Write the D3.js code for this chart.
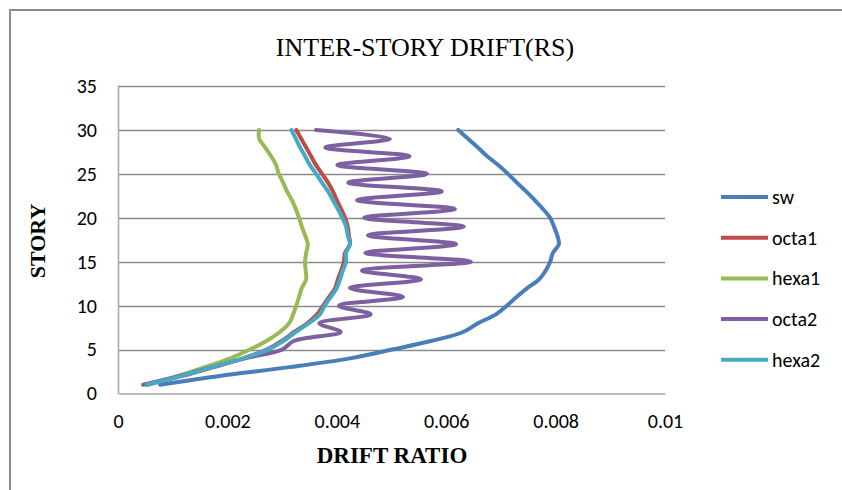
<!DOCTYPE html>
<html>
<head>
<meta charset="utf-8">
<script src="https://cdn.jsdelivr.net/npm/d3@7"></script>
<style>
  body { margin: 0; background: #fff; }
  svg { display: block; }
</style>
</head>
<body>
<svg id="chart" width="842" height="490"></svg>
<script>
// Story levels 1..30
const stories = d3.range(1, 31);

// Inter-story drift ratio per story, bottom to top
const sw    = [0.00077, 0.00186, 0.00314, 0.00424, 0.00501, 0.00574, 0.00631, 0.00658, 0.00691, 0.00711,
               0.00729, 0.00748, 0.00770, 0.00782, 0.00790, 0.00795, 0.00806, 0.00803, 0.00797, 0.00790,
               0.00777, 0.00762, 0.00746, 0.00729, 0.00713, 0.00695, 0.00675, 0.00658, 0.00640, 0.00622];
const octa1 = [0.00053, 0.00117, 0.00174, 0.00229, 0.00272, 0.00300, 0.00322, 0.00346, 0.00364, 0.00375,
               0.00386, 0.00397, 0.00402, 0.00408, 0.00413, 0.00415, 0.00424, 0.00422, 0.00420, 0.00415,
               0.00408, 0.00400, 0.00393, 0.00384, 0.00373, 0.00362, 0.00353, 0.00344, 0.00335, 0.00326];
const hexa1 = [0.00053, 0.00110, 0.00159, 0.00205, 0.00241, 0.00272, 0.00296, 0.00313, 0.00320, 0.00326,
               0.00331, 0.00336, 0.00344, 0.00343, 0.00342, 0.00344, 0.00347, 0.00342, 0.00336, 0.00331,
               0.00325, 0.00318, 0.00309, 0.00302, 0.00294, 0.00289, 0.00280, 0.00269, 0.00258, 0.00258];
const octa2 = [0.00046, 0.00113, 0.00172, 0.00232, 0.00300, 0.00322, 0.00407, 0.00368, 0.00462, 0.00404,
               0.00521, 0.00424, 0.00554, 0.00446, 0.00645, 0.00452, 0.00618, 0.00457, 0.00632, 0.00450,
               0.00616, 0.00437, 0.00592, 0.00421, 0.00565, 0.00401, 0.00533, 0.00379, 0.00497, 0.00362];
const hexa2 = [0.00053, 0.00117, 0.00172, 0.00229, 0.00274, 0.00303, 0.00325, 0.00349, 0.00369, 0.00378,
               0.00389, 0.00400, 0.00406, 0.00411, 0.00417, 0.00417, 0.00424, 0.00420, 0.00417, 0.00410,
               0.00402, 0.00393, 0.00384, 0.00373, 0.00362, 0.00351, 0.00342, 0.00333, 0.00325, 0.00317];

const seriesNames = ["sw", "octa1", "hexa1", "octa2", "hexa2"];
const seriesValues = [sw, octa1, hexa1, octa2, hexa2];
const seriesColors = ["#4a7ebb", "#be4b48", "#98b954", "#7d60a0", "#46aac5"];

const xTicks = [0, 0.002, 0.004, 0.006, 0.008, 0.01];
const xTickLabels = ["0", "0.002", "0.004", "0.006", "0.008", "0.01"];
const yTicks = [0, 5, 10, 15, 20, 25, 30, 35];

const titleText = "INTER-STORY DRIFT(RS)";
const xTitle = "DRIFT RATIO";
const yTitle = "STORY";

const svg = d3.select("#chart");
const plot = { left: 118, right: 665, top: 86, bottom: 393.5 };
const labelFont = "Carlito, Calibri, 'Open Sans', sans-serif";
const serifFont = "'Liberation Serif', 'Times New Roman', serif";

// Outer chart frame
svg.append("rect")
  .attr("x", 10).attr("y", 10).attr("width", 860).attr("height", 520)
  .attr("fill", "#fff").attr("stroke", "#8c8c8c").attr("stroke-width", 2);

const x = d3.scaleLinear().domain([0, 0.01]).range([plot.left, plot.right]);
const y = d3.scaleLinear().domain([0, 35]).range([plot.bottom, plot.top]);

// Horizontal gridlines
svg.append("g").selectAll("line")
  .data(yTicks.filter(d => d > 0))
  .join("line")
  .attr("x1", plot.left).attr("x2", plot.right)
  .attr("y1", d => Math.round(y(d)) + 0.5).attr("y2", d => Math.round(y(d)) + 0.5)
  .attr("stroke", "#8a8a8a").attr("stroke-width", 1.3);

// Axes (lines only, labels drawn by d3.axis with hidden ticks)
const yAxis = svg.append("g")
  .attr("transform", `translate(${plot.left},0)`)
  .call(d3.axisLeft(y).tickValues(yTicks).tickSize(0).tickPadding(21));
const xAxis = svg.append("g")
  .attr("transform", `translate(0,${plot.bottom})`)
  .call(d3.axisBottom(x).tickValues(xTicks).tickSize(0).tickPadding(20)
    .tickFormat((d, i) => xTickLabels[i]));

[yAxis, xAxis].forEach(g => {
  g.select(".domain").attr("stroke", "#a6a6a6").attr("stroke-width", 1.5);
  g.selectAll("text")
    .attr("font-family", labelFont)
    .attr("font-size", 20)
    .attr("fill", "#000");
});

// Series lines
const line = d3.line()
  .x(d => x(d.v))
  .y(d => y(d.s))
  .curve(d3.curveCatmullRom.alpha(0.5));

seriesNames.forEach((name, i) => {
  const pts = stories.map((s, k) => ({ s, v: seriesValues[i][k] }));
  svg.append("path")
    .datum(pts)
    .attr("fill", "none")
    .attr("stroke", seriesColors[i])
    .attr("stroke-width", 4)
    .attr("stroke-linejoin", "round")
    .attr("stroke-linecap", "round")
    .attr("d", line);
});

// Title
svg.append("text")
  .attr("x", 425).attr("y", 56)
  .attr("text-anchor", "middle")
  .attr("font-family", serifFont)
  .attr("font-size", 26)
  .attr("fill", "#000")
  .text(titleText);

// Axis titles
svg.append("text")
  .attr("x", 392).attr("y", 463)
  .attr("text-anchor", "middle")
  .attr("font-family", serifFont)
  .attr("font-weight", "bold")
  .attr("font-size", 23)
  .attr("fill", "#000")
  .text(xTitle);

svg.append("text")
  .attr("transform", "translate(45,241) rotate(-90)")
  .attr("text-anchor", "middle")
  .attr("font-family", serifFont)
  .attr("font-weight", "bold")
  .attr("font-size", 22)
  .attr("fill", "#000")
  .text(yTitle);

// Legend
const legend = svg.append("g").attr("transform", "translate(721,197)");
seriesNames.forEach((name, i) => {
  const g = legend.append("g").attr("transform", `translate(0,${i * 40.7})`);
  g.append("line")
    .attr("x1", 0).attr("x2", 47).attr("y1", 0).attr("y2", 0)
    .attr("stroke", seriesColors[i]).attr("stroke-width", 4);
  g.append("text")
    .attr("x", 51).attr("y", 0).attr("dy", "0.35em")
    .attr("font-family", labelFont)
    .attr("font-size", 20)
    .attr("fill", "#000")
    .text(name);
});
</script>
</body>
</html>
